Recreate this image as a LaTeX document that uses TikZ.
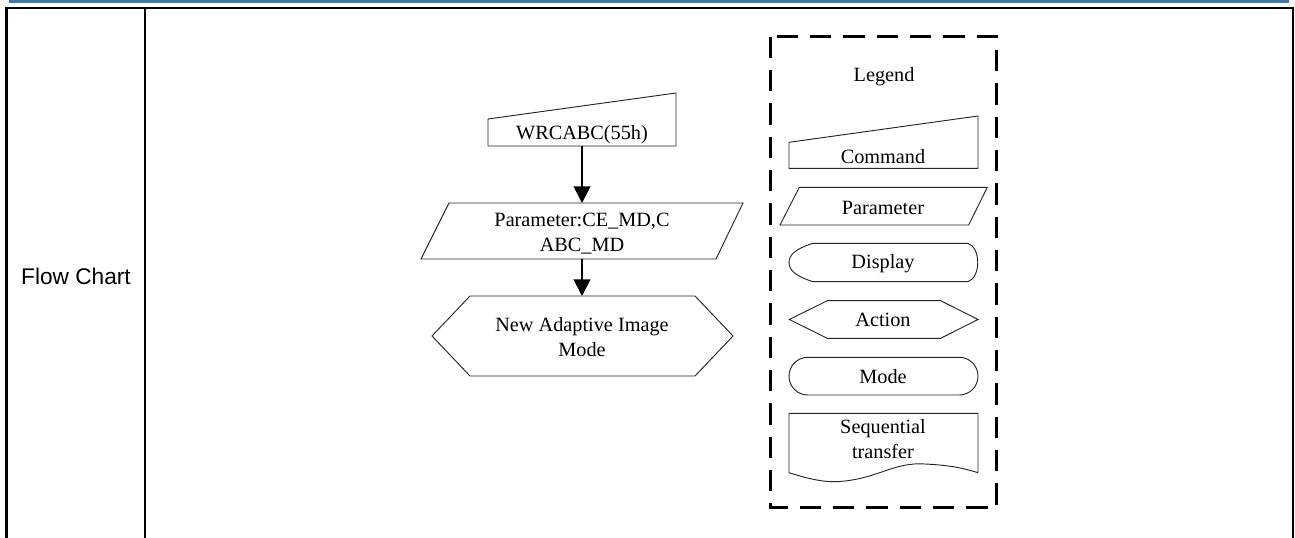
\documentclass[tikz,border=0pt]{standalone}
\usepackage{fontspec}
\setmainfont{Liberation Serif}
\newfontfamily\arialfont{Liberation Sans}
\usetikzlibrary{arrows.meta}
\begin{document}
\begin{tikzpicture}[x=0.75pt,y=-0.75pt,
  shp/.style={draw=black!85,line width=0.7pt},
  lbl/.style={font=\fontsize{15.2}{19}\selectfont,inner sep=0pt,align=center},
  flowarrow/.style={line width=1.5pt,-{Triangle[length=12.5pt,width=12.5pt]}},
  legendbox/.style={line width=2.3pt,dash pattern=on 16pt off 9pt,line cap=butt}
]
\useasboundingbox (0,0) rectangle (1295,538);
\fill[white] (0,0) rectangle (1295,538);
% top blue bar
\shade[top color=blue!45!black!80!cyan,bottom color=blue!30!cyan!60!white!80!black] (9,0) rectangle (1289,3);
\fill[color={rgb,255:red,70;green,115;blue,170}] (9,0) rectangle (1289,2);
% table lines
\draw[line width=1.6pt] (5,7.7) -- (1294,7.7);
\draw[line width=2.4pt] (6.5,7) -- (6.5,538);
\draw[line width=1.5pt] (144.8,7.7) -- (144.8,538);
\draw[line width=1.3pt] (1293.3,7.7) -- (1293.3,538);
\node[font=\arialfont\fontsize{17}{20}\selectfont,inner sep=0pt,anchor=base] (fc) at (76,284) {Flow Chart};

% main flow: command
\draw[shp] (488,146) -- (676,146) -- (676,93) -- (488,119) -- cycle;
\coordinate (cmdtop) at (582,119);
\coordinate (cmdbot) at (582,146);
\node[lbl,anchor=base] (cmd) at (582,140) {WRCABC(55h)};
% parameter
\draw[shp] (449,203) -- (743,203) -- (716,259) -- (421,259) -- cycle;
\coordinate (partop) at (582,203);
\coordinate (parbot) at (582,259);
\node[lbl,anchor=base] (par1) at (582,226.7) {Parameter:CE\_MD,C};
\node[lbl,anchor=base] (par2) at (582,252) {ABC\_MD};
% action hexagon
\draw[shp] (432,336) -- (470,296) -- (695,296) -- (733,336) -- (695,376) -- (470,376) -- cycle;
\coordinate (acttop) at (582,296);
\node[lbl,anchor=base] (act1) at (582,331) {New Adaptive Image};
\node[lbl,anchor=base] (act2) at (582,356.7) {Mode};
\draw[flowarrow] (cmdbot) -- (partop);
\draw[flowarrow] (parbot) -- (acttop);

% legend box
\draw[legendbox] (770.7,36.7) rectangle (996.7,507.7);
\node[lbl,anchor=base] (leg) at (884,82) {Legend};
% legend command
\draw[shp] (789,168.3) -- (978,168.3) -- (978,116) -- (789,142.3) -- cycle;
\node[lbl,anchor=base] (lcmd) at (883,163.3) {Command};
% legend parameter
\draw[shp] (799.3,187.3) -- (987.3,187.3) -- (968.7,225) -- (780,225) -- cycle;
\node[lbl,anchor=base] (lpar) at (883,215) {Parameter};
% legend display
\draw[shp] (813,243.3) -- (968,243.3) .. controls (981,248) and (981,277) .. (968,281.7)
  -- (813,281.7) .. controls (795,276) and (789,270) .. (789,262.5)
  .. controls (789,255) and (795,249) .. (813,243.3) -- cycle;
\node[lbl,anchor=base] (ldis) at (883,268.5) {Display};
% legend action
\draw[shp] (789.3,319.5) -- (827.3,300.7) -- (940.7,300.7) -- (978,319.5) -- (940.7,338.3) -- (827.3,338.3) -- cycle;
\node[lbl,anchor=base] (lact) at (883,326.7) {Action};
% legend mode
\draw[shp,rounded corners=18.8*0.75pt] (789,357.3) rectangle (978,395);
\node[lbl,anchor=base] (lmode) at (883,383.3) {Mode};
% legend sequential transfer
\draw[shp] (978,472.7) -- (978,413.3) -- (789,413.3) -- (789,472.7)
  .. controls (815,481) and (830,483) .. (845,481)
  .. controls (880,477) and (895,462) .. (925,464)
  .. controls (945,465) and (960,467) .. (978,472.7);
\node[lbl,anchor=base] (lseq1) at (883,433.3) {Sequential};
\node[lbl,anchor=base] (lseq2) at (883,458.3) {transfer};
\end{tikzpicture}
\end{document}
